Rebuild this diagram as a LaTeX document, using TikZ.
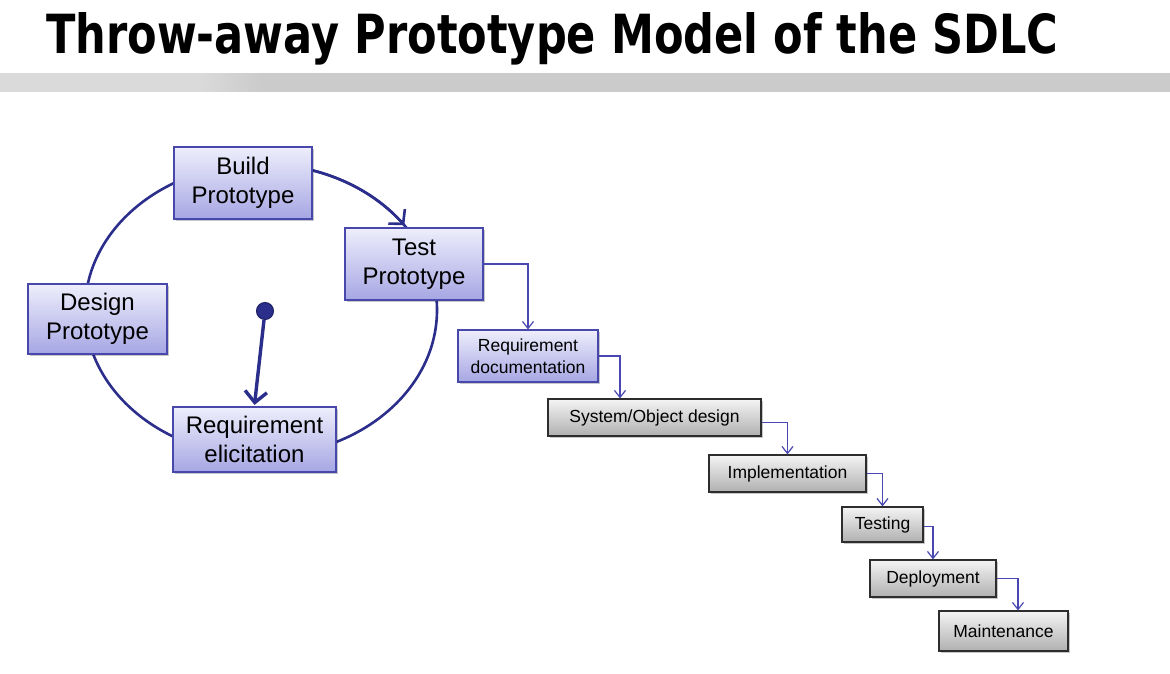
\documentclass[tikz,border=0pt]{standalone}
\usepackage{fontspec}
\setmainfont{Liberation Sans}
\newfontfamily\titlefont{DejaVu Sans}
\usetikzlibrary{arrows.meta,shadows,calc}
\definecolor{navy}{RGB}{44,46,140}
\definecolor{boxedge}{RGB}{72,72,172}
\definecolor{btop}{RGB}{238,238,252}
\definecolor{bbot}{RGB}{166,166,228}
\definecolor{gtop}{RGB}{244,244,244}
\definecolor{gbot}{RGB}{176,176,176}
\definecolor{gedge}{RGB}{45,45,45}
\definecolor{conncol}{RGB}{72,72,176}
\definecolor{bandA}{RGB}{218,218,218}
\definecolor{bandB}{RGB}{203,203,203}
\pgfdeclarehorizontalshading{bandshade}{100bp}{color(0bp)=(bandA); color(33.5bp)=(bandA); color(36.2bp)=(bandB); color(100bp)=(bandB)}
\tikzset{
  softshadow/.style={drop shadow={shadow xshift=1.8pt,shadow yshift=-1.8pt,fill=black,opacity=0.22}},
  bluebox/.style={draw=boxedge,line width=1.2pt,top color=btop,bottom color=bbot,
    align=center,inner sep=0pt,softshadow},
  bigbox/.style={bluebox,font=\fontsize{24}{28.5}\selectfont},
  smallblue/.style={bluebox,font=\fontsize{17.5}{22}\selectfont},
  graybox/.style={draw=gedge,line width=1.2pt,top color=gtop,bottom color=gbot,
    align=center,inner sep=0pt,softshadow,font=\fontsize{17.5}{22}\selectfont},
  conn/.style={draw=conncol,line width=1.2pt,-{Straight Barb[length=7pt,width=11pt,line width=1.2pt]}},
  loopline/.style={draw=navy,line width=2.6pt},
  bigarrow/.style={draw=navy,line width=3.4pt,-{Straight Barb[length=11pt,width=22pt,line width=3.4pt]}},
}
\begin{document}
\begin{tikzpicture}[x=1pt,y=-1pt]
\useasboundingbox (0,0) rectangle (1170,674);
\fill[white] (0,0) rectangle (1170,674);
% title and band
\node[anchor=base west,inner sep=0pt] (title) at (46,54)
  {\resizebox{1012pt}{41pt}{\titlefont\bfseries Throw-away Prototype Model of the SDLC}};
\shade[shading=bandshade] (0,74) rectangle (1170,92);
% loop
\draw[loopline] (261,310) ellipse [x radius=176pt, y radius=146pt];
\draw[loopline,-{Straight Barb[length=10pt,width=22pt,line width=2.6pt]}]
  plot[domain=-72.8:-35.5,samples=40,smooth,variable=\t] ({261+176*cos(\t)},{310+146*sin(\t)});
% prototype boxes
\node[bigbox,minimum width=138pt,minimum height=72pt] (build) at (243,183) {Build\\Prototype};
\node[bigbox,minimum width=138pt,minimum height=72pt] (test) at (414,264) {Test\\Prototype};
\node[bigbox,minimum width=139pt,minimum height=70pt] (design) at (97.5,319) {Design\\Prototype};
\node[bigbox,minimum width=163pt,minimum height=65pt] (reqel) at (254.5,439.5) {Requirement\\elicitation};
% start dot
\node[circle,fill=navy,draw=navy!70!black,line width=1pt,minimum size=17pt,inner sep=0pt] (dot) at (265,311) {};
\draw[bigarrow] (dot) -- ([yshift=1.5pt]reqel.north);
% waterfall
\node[smallblue,minimum width=140pt,minimum height=52pt] (reqdoc) at (528,356) {Requirement\\documentation};
\node[graybox,minimum width=213pt,minimum height=37pt] (sysobj) at (654.5,417.5) {System/Object design};
\node[graybox,minimum width=157pt,minimum height=37pt] (impl) at (787.5,473.5) {Implementation};
\node[graybox,minimum width=81pt,minimum height=35pt] (testing) at (882.5,524.5) {Testing};
\node[graybox,minimum width=126pt,minimum height=37pt] (deploy) at (933,578.5) {Deployment};
\node[graybox,minimum width=129pt,minimum height=40pt] (maint) at (1003.5,631) {Maintenance};
\draw[conn] (test.east) -| (reqdoc.north);
\draw[conn] (reqdoc.east) -| ([xshift=-34.5pt]sysobj.north);
\draw[conn] ([yshift=-5pt]sysobj.east) -| (impl.north);
\draw[conn] (impl.east) -| (testing.north);
\draw[conn] ([yshift=-2pt]testing.east) -| (deploy.north);
\draw[conn] (deploy.east) -| ([xshift=14.5pt]maint.north);
\end{tikzpicture}
\end{document}
